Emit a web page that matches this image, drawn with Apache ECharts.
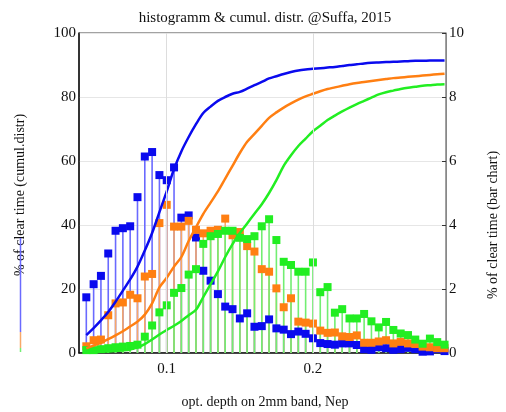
<!DOCTYPE html>
<html>
<head>
<meta charset="utf-8">
<script src="https://cdn.jsdelivr.net/npm/echarts@6/dist/echarts.min.js"></script>
<style>
  html, body { margin: 0; padding: 0; background: #fff; }
  #chart { width: 506px; height: 412px; }
</style>
</head>
<body>
<div id="chart"></div>
<script>
// opt. depth bins (x)
var depth = [0.045, 0.050, 0.055, 0.060, 0.065, 0.070, 0.075, 0.080, 0.085, 0.090,
             0.095, 0.100, 0.105, 0.110, 0.115, 0.120, 0.125, 0.130, 0.135, 0.140,
             0.145, 0.150, 0.155, 0.160, 0.165, 0.170, 0.175, 0.180, 0.185, 0.190,
             0.195, 0.200, 0.205, 0.210, 0.215, 0.220, 0.225, 0.230, 0.235, 0.240,
             0.245, 0.250, 0.255, 0.260, 0.265, 0.270, 0.275, 0.280, 0.285, 0.290];

// histogram, % of clear time (right axis)
var blueBars = [1.74, 2.15, 2.41, 3.11, 3.82, 3.90, 3.96, 4.87, 6.14, 6.28,
                5.56, 5.40, 5.80, 4.23, 4.30, 3.61, 2.57, 2.26, 1.84, 1.45,
                1.37, 1.08, 1.24, 0.82, 0.84, 1.05, 0.77, 0.73, 0.59, 0.67,
                0.60, 0.46, 0.31, 0.28, 0.26, 0.30, 0.30, 0.25, 0.12, 0.10,
                0.18, 0.15, 0.10, 0.12, 0.16, 0.12, 0.04, 0.05, 0.12, 0.06];
var orangeBars = [0.21, 0.40, 0.42, 1.18, 1.55, 1.58, 1.82, 1.71, 2.39, 2.47,
                  4.06, 4.63, 3.95, 3.95, 4.13, 3.85, 3.74, 3.82, 3.85, 4.20,
                  3.68, 3.78, 3.34, 3.17, 2.62, 2.54, 2.02, 1.43, 1.71, 0.98,
                  0.95, 0.92, 0.70, 0.63, 0.64, 0.52, 0.50, 0.55, 0.32, 0.32,
                  0.36, 0.40, 0.30, 0.35, 0.30, 0.28, 0.20, 0.18, 0.15, 0.15];
var greenBars = [0.09, 0.09, 0.12, 0.15, 0.18, 0.20, 0.22, 0.26, 0.51, 0.86,
                 1.27, 1.49, 1.88, 2.03, 2.45, 2.62, 3.41, 3.65, 3.72, 3.82,
                 3.82, 3.60, 3.56, 3.65, 3.96, 4.18, 3.53, 2.85, 2.75, 2.54,
                 2.54, 2.83, 1.90, 2.06, 1.26, 1.37, 1.08, 1.08, 1.22, 0.99,
                 0.80, 0.97, 0.72, 0.61, 0.56, 0.42, 0.29, 0.45, 0.34, 0.26];

// cumulative distribution, % of clear time (left axis)
var blueCum = [5.6, 7.8, 10.2, 12.8, 16.0, 19.5, 23.0, 27.0, 32.0, 37.5,
               44.0, 50.5, 57.5, 63.0, 67.5, 71.5, 75.0, 77.0, 78.8, 80.0,
               81.0, 81.6, 82.6, 83.7, 84.7, 85.8, 86.5, 87.2, 87.8, 88.3,
               88.6, 88.8, 89.0, 89.2, 89.4, 89.7, 90.0, 90.2, 90.5, 90.7,
               90.8, 90.9, 91.0, 91.1, 91.2, 91.3, 91.3, 91.4, 91.4, 91.4];
var orangeCum = [1.5, 2.3, 3.2, 4.3, 5.5, 6.8, 8.3, 9.8, 12.0, 15.5,
                 20.5, 23.5, 27.0, 30.0, 35.0, 39.3, 43.5, 47.0, 50.5, 54.5,
                 58.5, 62.5, 66.0, 68.5, 71.0, 73.5, 75.2, 76.7, 78.0, 79.2,
                 80.2, 81.0, 81.8, 82.5, 83.0, 83.5, 84.0, 84.4, 84.7, 85.0,
                 85.3, 85.6, 85.9, 86.1, 86.3, 86.5, 86.7, 86.9, 87.1, 87.3];
var greenCum = [0.2, 0.3, 0.4, 0.5, 0.6, 0.8, 1.1, 1.8, 2.8, 4.2,
                5.8, 7.2, 8.5, 10.0, 11.8, 13.5, 17.5, 21.5, 25.5, 30.0,
                34.0, 37.5, 40.5, 43.5, 46.5, 50.0, 54.0, 58.5, 61.8, 64.7,
                67.0, 69.3, 71.0, 72.8, 74.2, 75.5, 76.7, 77.8, 78.8, 79.8,
                80.8, 81.5, 82.0, 82.5, 82.9, 83.2, 83.5, 83.7, 83.9, 84.0];

var xGrid = [0.1, 0.2];

var BLUE = '#0a0aee', ORANGE = '#ff7f12', GREEN = '#22ee22';
var BLUE_STEM = '#6a6aff', ORANGE_STEM = '#f7a868', GREEN_STEM = '#72ee72';
var FONT = 'Liberation Serif';

function pairs(ys) {
    return depth.map(function (x, i) { return [x, ys[i]]; });
}

function stems(name, ys, color) {
    return {
        name: name, type: 'bar', yAxisIndex: 1, barWidth: 1.6, barGap: '-100%',
        itemStyle: { color: color },
        silent: true, data: pairs(ys)
    };
}

function marks(name, ys, color) {
    return {
        name: name, type: 'scatter', yAxisIndex: 1, symbol: 'rect', symbolSize: 8,
        itemStyle: { color: color, opacity: 1 }, silent: true, data: pairs(ys)
    };
}

function cumul(name, ys, color) {
    return {
        name: name, type: 'line', yAxisIndex: 0, smooth: 0.3, showSymbol: false,
        lineStyle: { color: color, width: 2.5 }, silent: true, data: pairs(ys)
    };
}

var myChart = echarts.init(document.getElementById('chart'));

option = {
    animation: false,
    title: {
        text: 'histogramm & cumul. distr. @Suffa, 2015',
        left: 260, top: 6, textAlign: 'center',
        textStyle: { fontFamily: FONT, fontSize: 15, fontWeight: 'normal', color: '#111' }
    },
    grid: { left: 79, right: 60, top: 33, bottom: 59, show: true, borderColor: '#444', borderWidth: 1 },
    xAxis: {
        type: 'value', min: 0.04, max: 0.291, interval: 0.01,
        axisLine: { lineStyle: { color: '#111', width: 1.5 } },
        axisTick: { show: false },
        splitLine: { show: false },
        axisLabel: {
            fontFamily: FONT, fontSize: 15, color: '#111', margin: 9,
            formatter: function (v) {
                var t = Math.round(v * 100);
                return t % 10 === 0 ? String(t / 100) : '';
            }
        }
    },
    yAxis: [{
        type: 'value', min: 0, max: 100, interval: 20,
        axisLine: { show: true, lineStyle: { color: '#111', width: 1.5 } },
        axisTick: { show: false },
        splitLine: { lineStyle: { color: '#e6e6e6' } },
        axisLabel: { fontFamily: FONT, fontSize: 15, color: '#111', margin: 3 }
    }, {
        type: 'value', min: 0, max: 10, interval: 2, position: 'right',
        axisLine: { show: true, lineStyle: { color: '#888' } },
        axisTick: { show: true, inside: true, length: 4, lineStyle: { color: '#333' } },
        splitLine: { show: false },
        axisLabel: { fontFamily: FONT, fontSize: 15, color: '#111', margin: 3 }
    }],
    graphic: [
        { type: 'text', x: 20, y: 195, rotation: Math.PI / 2,
          style: { text: '% of clear time (cumul.distr)', font: '14px "Liberation Serif"',
                   fill: '#111', textAlign: 'center', textVerticalAlign: 'middle' } },
        { type: 'text', x: 493, y: 225, rotation: Math.PI / 2,
          style: { text: '% of clear time (bar chart)', font: '14px "Liberation Serif"',
                   fill: '#111', textAlign: 'center', textVerticalAlign: 'middle' } },
        { type: 'text', x: 265, y: 402,
          style: { text: 'opt. depth on 2mm band, Nep', font: '14px "Liberation Serif"',
                   fill: '#111', textAlign: 'center', textVerticalAlign: 'middle' } },
        { type: 'line', shape: { x1: 20.5, y1: 238, x2: 20.5, y2: 332 }, style: { stroke: BLUE_STEM, lineWidth: 1.5 } },
        { type: 'line', shape: { x1: 20.5, y1: 332, x2: 20.5, y2: 348 }, style: { stroke: ORANGE_STEM, lineWidth: 1.5 } },
        { type: 'line', shape: { x1: 20.5, y1: 348, x2: 20.5, y2: 352 }, style: { stroke: GREEN_STEM, lineWidth: 1.5 } }
    ],
    series: [
        {
            name: 'x grid', type: 'line', yAxisIndex: 1, z: 1, data: [], silent: true,
            markLine: {
                silent: true, symbol: 'none', label: { show: false },
                lineStyle: { color: '#dddddd', width: 1, type: 'solid' },
                data: xGrid.map(function (v) { return { xAxis: v }; })
            }
        },
        stems('blue bars', blueBars, BLUE_STEM),
        stems('orange bars', orangeBars, ORANGE_STEM),
        stems('green bars', greenBars, GREEN_STEM),
        marks('blue marks', blueBars, BLUE),
        marks('orange marks', orangeBars, ORANGE),
        marks('green marks', greenBars, GREEN),
        cumul('blue cumul', blueCum, BLUE),
        cumul('orange cumul', orangeCum, ORANGE),
        cumul('green cumul', greenCum, GREEN)
    ]
};

myChart.setOption(option);
</script>
</body>
</html>
